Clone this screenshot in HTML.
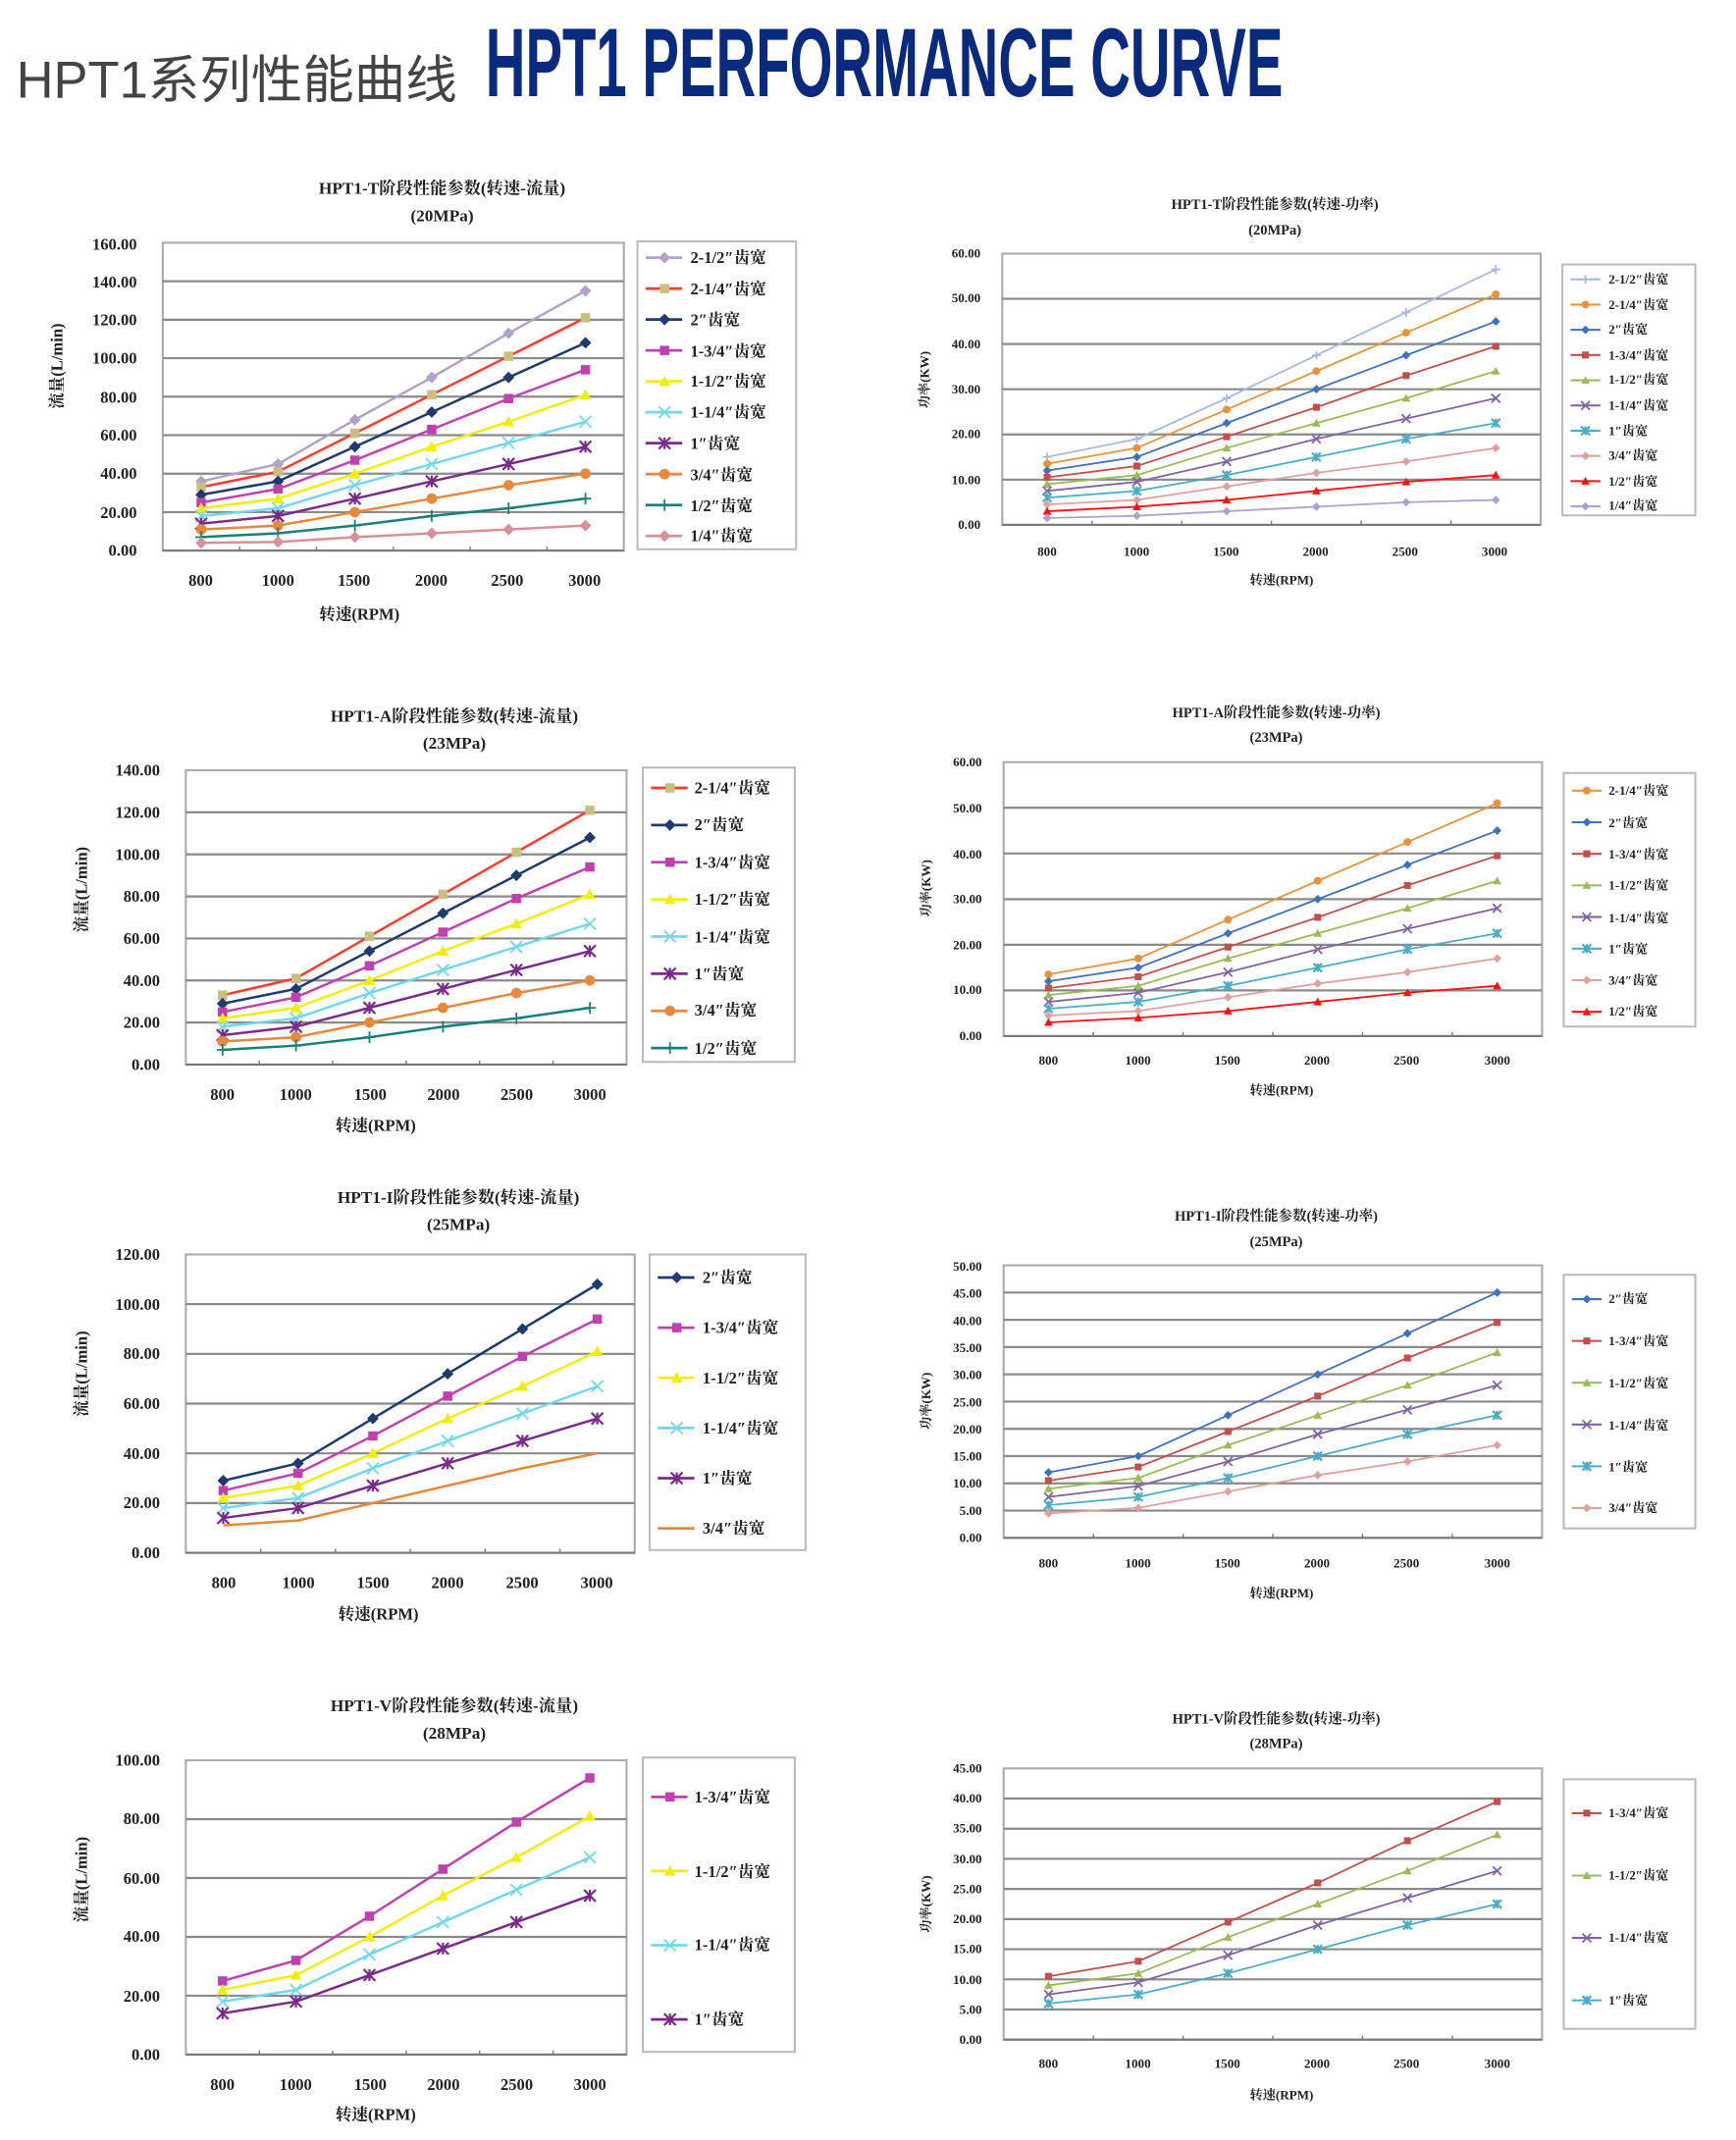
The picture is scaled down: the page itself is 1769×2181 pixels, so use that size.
<!DOCTYPE html>
<html><head><meta charset="utf-8"><style>
html,body{margin:0;padding:0;background:#fff;}
svg{display:block}
.t{font-family:"Liberation Serif","Noto Serif CJK SC",serif;font-weight:bold;fill:#222}
.f{font-size:12px}.p{font-size:9.5px}
.ti{font-size:12.5px}.tp{font-size:10.5px}
.r{text-anchor:end}.c{text-anchor:middle}
</style></head><body>
<svg id="s" width="1769" height="2181" viewBox="0 0 1280 1578" preserveAspectRatio="none" xmlns="http://www.w3.org/2000/svg">
<rect width="1280" height="1578" fill="#fff"/>
<text x="12" y="72" style="font-family:'Liberation Sans','Noto Sans CJK SC',sans-serif;font-size:38px;fill:#444">HPT1系列性能曲线</text>
<text x="358" y="71" textLength="588" lengthAdjust="spacingAndGlyphs" style="font-family:'Liberation Sans',sans-serif;font-weight:bold;font-size:72px;fill:#0a2a80">HPT1 PERFORMANCE CURVE</text>
<g id="plots"></g>
<g class="t">
<!-- C1 -->
<text class="c ti" x="326" y="143">HPT1-T阶段性能参数(转速-流量)</text>
<text class="c ti" x="326" y="163">(20MPa)</text>
<g class="f r"><text x="101" y="184">160.00</text><text x="101" y="212">140.00</text><text x="101" y="240">120.00</text><text x="101" y="268">100.00</text><text x="101" y="297">80.00</text><text x="101" y="325">60.00</text><text x="101" y="353">40.00</text><text x="101" y="382">20.00</text><text x="101" y="410">0.00</text></g>
<g class="f c"><text x="148" y="432">800</text><text x="205" y="432">1000</text><text x="261" y="432">1500</text><text x="318" y="432">2000</text><text x="374" y="432">2500</text><text x="431" y="432">3000</text></g>
<text class="f c" x="265" y="457">转速(RPM)</text>
<text class="f c" transform="translate(46,270) rotate(-90)">流量(L/min)</text>
<g class="f"><text x="509" y="194">2-1/2″齿宽</text><text x="509" y="217">2-1/4″齿宽</text><text x="509" y="240">2″齿宽</text><text x="509" y="263">1-3/4″齿宽</text><text x="509" y="285">1-1/2″齿宽</text><text x="509" y="308">1-1/4″齿宽</text><text x="509" y="331">1″齿宽</text><text x="509" y="354">3/4″齿宽</text><text x="509" y="377">1/2″齿宽</text><text x="509" y="399">1/4″齿宽</text></g>
<!-- C2 -->
<text class="c tp" x="940" y="154">HPT1-T阶段性能参数(转速-功率)</text>
<text class="c tp" x="940" y="173">(20MPa)</text>
<g class="p r"><text x="723" y="190">60.00</text><text x="723" y="223">50.00</text><text x="723" y="257">40.00</text><text x="723" y="290">30.00</text><text x="723" y="323">20.00</text><text x="723" y="357">10.00</text><text x="723" y="390">0.00</text></g>
<g class="p c"><text x="772" y="410">800</text><text x="838" y="410">1000</text><text x="904" y="410">1500</text><text x="970" y="410">2000</text><text x="1036" y="410">2500</text><text x="1102" y="410">3000</text></g>
<text class="p c" x="945" y="431">转速(RPM)</text>
<text class="p c" transform="translate(685,280) rotate(-90)">功率(KW)</text>
<g class="p"><text x="1186" y="209">2-1/2″齿宽</text><text x="1186" y="228">2-1/4″齿宽</text><text x="1186" y="246">2″齿宽</text><text x="1186" y="265">1-3/4″齿宽</text><text x="1186" y="283">1-1/2″齿宽</text><text x="1186" y="302">1-1/4″齿宽</text><text x="1186" y="321">1″齿宽</text><text x="1186" y="339">3/4″齿宽</text><text x="1186" y="358">1/2″齿宽</text><text x="1186" y="376">1/4″齿宽</text></g>
<!-- C3 -->
<text class="c ti" x="335" y="532">HPT1-A阶段性能参数(转速-流量)</text>
<text class="c ti" x="335" y="552">(23MPa)</text>
<g class="f r"><text x="118" y="572">140.00</text><text x="118" y="603">120.00</text><text x="118" y="634">100.00</text><text x="118" y="665">80.00</text><text x="118" y="696">60.00</text><text x="118" y="727">40.00</text><text x="118" y="758">20.00</text><text x="118" y="789">0.00</text></g>
<g class="f c"><text x="164" y="811">800</text><text x="218" y="811">1000</text><text x="273" y="811">1500</text><text x="327" y="811">2000</text><text x="381" y="811">2500</text><text x="435" y="811">3000</text></g>
<text class="f c" x="277" y="834">转速(RPM)</text>
<text class="f c" transform="translate(64,656) rotate(-90)">流量(L/min)</text>
<g class="f"><text x="512" y="585">2-1/4″齿宽</text><text x="512" y="612">2″齿宽</text><text x="512" y="640">1-3/4″齿宽</text><text x="512" y="667">1-1/2″齿宽</text><text x="512" y="695">1-1/4″齿宽</text><text x="512" y="722">1″齿宽</text><text x="512" y="749">3/4″齿宽</text><text x="512" y="777">1/2″齿宽</text></g>
<!-- C4 -->
<text class="c tp" x="941" y="529">HPT1-A阶段性能参数(转速-功率)</text>
<text class="c tp" x="941" y="547">(23MPa)</text>
<g class="p r"><text x="724" y="565">60.00</text><text x="724" y="599">50.00</text><text x="724" y="633">40.00</text><text x="724" y="666">30.00</text><text x="724" y="700">20.00</text><text x="724" y="733">10.00</text><text x="724" y="767">0.00</text></g>
<g class="p c"><text x="773" y="785">800</text><text x="839" y="785">1000</text><text x="905" y="785">1500</text><text x="971" y="785">2000</text><text x="1037" y="785">2500</text><text x="1104" y="785">3000</text></g>
<text class="p c" x="945" y="807">转速(RPM)</text>
<text class="p c" transform="translate(686,655) rotate(-90)">功率(KW)</text>
<g class="p"><text x="1186" y="586">2-1/4″齿宽</text><text x="1186" y="610">2″齿宽</text><text x="1186" y="633">1-3/4″齿宽</text><text x="1186" y="656">1-1/2″齿宽</text><text x="1186" y="680">1-1/4″齿宽</text><text x="1186" y="703">1″齿宽</text><text x="1186" y="726">3/4″齿宽</text><text x="1186" y="749">1/2″齿宽</text></g>
<!-- C5 -->
<text class="c ti" x="338" y="887">HPT1-I阶段性能参数(转速-流量)</text>
<text class="c ti" x="338" y="907">(25MPa)</text>
<g class="f r"><text x="118" y="929">120.00</text><text x="118" y="966">100.00</text><text x="118" y="1002">80.00</text><text x="118" y="1039">60.00</text><text x="118" y="1076">40.00</text><text x="118" y="1112">20.00</text><text x="118" y="1149">0.00</text></g>
<g class="f c"><text x="165" y="1171">800</text><text x="220" y="1171">1000</text><text x="275" y="1171">1500</text><text x="330" y="1171">2000</text><text x="385" y="1171">2500</text><text x="440" y="1171">3000</text></g>
<text class="f c" x="279" y="1194">转速(RPM)</text>
<text class="f c" transform="translate(64,1013) rotate(-90)">流量(L/min)</text>
<g class="f"><text x="518" y="946">2″齿宽</text><text x="518" y="983">1-3/4″齿宽</text><text x="518" y="1020">1-1/2″齿宽</text><text x="518" y="1057">1-1/4″齿宽</text><text x="518" y="1094">1″齿宽</text><text x="518" y="1131">3/4″齿宽</text></g>
<!-- C6 -->
<text class="c tp" x="941" y="900">HPT1-I阶段性能参数(转速-功率)</text>
<text class="c tp" x="941" y="919">(25MPa)</text>
<g class="p r"><text x="724" y="937">50.00</text><text x="724" y="957">45.00</text><text x="724" y="977">40.00</text><text x="724" y="997">35.00</text><text x="724" y="1017">30.00</text><text x="724" y="1037">25.00</text><text x="724" y="1057">20.00</text><text x="724" y="1077">15.00</text><text x="724" y="1097">10.00</text><text x="724" y="1117">5.00</text><text x="724" y="1137">0.00</text></g>
<g class="p c"><text x="773" y="1156">800</text><text x="839" y="1156">1000</text><text x="905" y="1156">1500</text><text x="971" y="1156">2000</text><text x="1037" y="1156">2500</text><text x="1104" y="1156">3000</text></g>
<text class="p c" x="945" y="1178">转速(RPM)</text>
<text class="p c" transform="translate(686,1033) rotate(-90)">功率(KW)</text>
<g class="p"><text x="1186" y="961">2″齿宽</text><text x="1186" y="992">1-3/4″齿宽</text><text x="1186" y="1023">1-1/2″齿宽</text><text x="1186" y="1054">1-1/4″齿宽</text><text x="1186" y="1085">1″齿宽</text><text x="1186" y="1115">3/4″齿宽</text></g>
<!-- C7 -->
<text class="c ti" x="335" y="1262">HPT1-V阶段性能参数(转速-流量)</text>
<text class="c ti" x="335" y="1282">(28MPa)</text>
<g class="f r"><text x="118" y="1302">100.00</text><text x="118" y="1345">80.00</text><text x="118" y="1389">60.00</text><text x="118" y="1432">40.00</text><text x="118" y="1476">20.00</text><text x="118" y="1519">0.00</text></g>
<g class="f c"><text x="164" y="1541">800</text><text x="218" y="1541">1000</text><text x="273" y="1541">1500</text><text x="327" y="1541">2000</text><text x="381" y="1541">2500</text><text x="435" y="1541">3000</text></g>
<text class="f c" x="277" y="1563">转速(RPM)</text>
<text class="f c" transform="translate(64,1386) rotate(-90)">流量(L/min)</text>
<g class="f"><text x="512" y="1329">1-3/4″齿宽</text><text x="512" y="1384">1-1/2″齿宽</text><text x="512" y="1438">1-1/4″齿宽</text><text x="512" y="1493">1″齿宽</text></g>
<!-- C8 -->
<text class="c tp" x="941" y="1271">HPT1-V阶段性能参数(转速-功率)</text>
<text class="c tp" x="941" y="1289">(28MPa)</text>
<g class="p r"><text x="724" y="1307">45.00</text><text x="724" y="1329">40.00</text><text x="724" y="1351">35.00</text><text x="724" y="1374">30.00</text><text x="724" y="1396">25.00</text><text x="724" y="1418">20.00</text><text x="724" y="1440">15.00</text><text x="724" y="1463">10.00</text><text x="724" y="1485">5.00</text><text x="724" y="1507">0.00</text></g>
<g class="p c"><text x="773" y="1525">800</text><text x="839" y="1525">1000</text><text x="905" y="1525">1500</text><text x="971" y="1525">2000</text><text x="1037" y="1525">2500</text><text x="1104" y="1525">3000</text></g>
<text class="p c" x="945" y="1548">转速(RPM)</text>
<text class="p c" transform="translate(686,1404) rotate(-90)">功率(KW)</text>
<g class="p"><text x="1186" y="1340">1-3/4″齿宽</text><text x="1186" y="1386">1-1/2″齿宽</text><text x="1186" y="1432">1-1/4″齿宽</text><text x="1186" y="1478">1″齿宽</text></g>
</g>
</svg>
<script>
var NS="http://www.w3.org/2000/svg",G=document.getElementById("plots");
function el(n,a){var e=document.createElementNS(NS,n);for(var k in a)e.setAttribute(k,a[k]);G.appendChild(e);return e;}
var FLOW={"2-1/2":[36,45,68,90,113,135],"2-1/4":[33,41,61,81,101,121],"2":[29,36,54,72,90,108],"1-3/4":[25,32,47,63,79,94],"1-1/2":[22,27,40,54,67,81],"1-1/4":[18,22,34,45,56,67],"1":[14,18,27,36,45,54],"3/4":[11,13,20,27,34,40],"1/2":[7,9,13,18,22,27],"1/4":[4,4.5,7,9,11,13]};
var POW={"2-1/2":[15,19,28,37.5,47,56.5],"2-1/4":[13.5,17,25.5,34,42.5,51],"2":[12,15,22.5,30,37.5,45],"1-3/4":[10.5,13,19.5,26,33,39.5],"1-1/2":[9,11,17,22.5,28,34],"1-1/4":[7.5,9.5,14,19,23.5,28],"1":[6,7.5,11,15,19,22.5],"3/4":[4.5,5.5,8.5,11.5,14,17],"1/2":[3,4,5.5,7.5,9.5,11],"1/4":[1.5,2,3,4,5,5.5]};
var FS={"2-1/2":["#b3a2c7","#b3a2c7","d"],"2-1/4":["#ff3a2a","#c8c080","s"],"2":["#1f3a6e","#1f3a6e","d"],"1-3/4":["#c040b0","#c040b0","s"],"1-1/2":["#f0ee10","#f0ee10","t"],"1-1/4":["#70d8ea","#70d8ea","x"],"1":["#7a2a8a","#7a2a8a","a"],"3/4":["#e8883a","#e8883a","o"],"1/2":["#18807a","#18807a","p"],"1/4":["#d89098","#d89098","d"]};
var PS={"2-1/2":["#a8b8e0","#a8b8e0","p"],"2-1/4":["#e8923a","#e8923a","o"],"2":["#4070c0","#4070c0","d"],"1-3/4":["#c0504d","#c0504d","s"],"1-1/2":["#9bbb59","#9bbb59","t"],"1-1/4":["#8064a2","#8064a2","x"],"1":["#4bacc6","#4bacc6","a"],"3/4":["#e0a0a0","#e0a0a0","d"],"1/2":["#ff1010","#ff1010","t"],"1/4":["#b0a0d0","#b0a0d0","d"]};
function mk(x,y,t,c,s){
 if(t=="d")el("path",{d:"M"+x+","+(y-s)+"L"+(x+s)+","+y+"L"+x+","+(y+s)+"L"+(x-s)+","+y+"Z",fill:c});
 else if(t=="s")el("rect",{x:x-s*.8,y:y-s*.8,width:s*1.6,height:s*1.6,fill:c});
 else if(t=="t")el("path",{d:"M"+x+","+(y-s)+"L"+(x+s)+","+(y+s*.8)+"L"+(x-s)+","+(y+s*.8)+"Z",fill:c});
 else if(t=="o")el("circle",{cx:x,cy:y,r:s*.9,fill:c});
 else if(t=="x")el("path",{d:"M"+(x-s)+","+(y-s)+"L"+(x+s)+","+(y+s)+"M"+(x+s)+","+(y-s)+"L"+(x-s)+","+(y+s),stroke:c,"stroke-width":1.3});
 else if(t=="a")el("path",{d:"M"+(x-s)+","+(y-s)+"L"+(x+s)+","+(y+s)+"M"+(x+s)+","+(y-s)+"L"+(x-s)+","+(y+s)+"M"+x+","+(y-s)+"L"+x+","+(y+s),stroke:c,"stroke-width":1.6});
 else if(t=="p")el("path",{d:"M"+(x-s)+","+y+"L"+(x+s)+","+y+"M"+x+","+(y-s)+"L"+x+","+(y+s),stroke:c,"stroke-width":1.3});
}
function chart(o){
 var w=o.x1-o.x0,h=o.yb-o.yt;
 el("rect",{x:o.x0,y:o.yt,width:w,height:h,fill:"#fff",stroke:"#aaa","stroke-width":1.5});
 for(var v=o.step;v<o.max-0.01;v+=o.step){var y=o.yb-v/o.max*h;el("line",{x1:o.x0,x2:o.x1,y1:y,y2:y,stroke:"#8a8a8a","stroke-width":1.6});}
 el("line",{x1:o.x0,x2:o.x1,y1:o.yb,y2:o.yb,stroke:"#777","stroke-width":1.5});
 for(var i=1;i<6;i++){var tx=o.x0+i*w/6;el("line",{x1:tx,x2:tx,y1:o.yb,y2:o.yb-3,stroke:"#777"});}
 el("rect",{x:o.lx0,y:o.ly0,width:o.lx1-o.lx0,height:o.ly1-o.ly0,fill:"#fff",stroke:"#bbb","stroke-width":1.5});
 var S=o.pw?PS:FS,D=o.pw?POW:FLOW,ms=o.pw?3.2:4.3;
 o.ser.forEach(function(k,j){
  var st=S[k],d=D[k],pts=[];
  var mt=(o.nom&&k=="3/4")?"n":st[2];
  for(var i=0;i<6;i++)pts.push([o.x0+(i+.5)*w/6,o.yb-d[i]/o.max*h]);
  el("polyline",{points:pts.map(function(p){return p.join(",")}).join(" "),fill:"none",stroke:st[0],"stroke-width":o.pw?1.3:1.8});
  if(mt!="n")pts.forEach(function(p){mk(p[0],p[1],mt,st[1],ms);});
  var ly=o.lyS+j*o.lyD;
  el("line",{x1:o.lx0+6,x2:o.lx0+(o.pw?28:33),y1:ly,y2:ly,stroke:st[0],"stroke-width":o.pw?1.5:2});
  if(mt!="n")mk(o.lx0+(o.pw?17:20),ly,mt,st[1],ms);
 });
}
var all=["2-1/2","2-1/4","2","1-3/4","1-1/2","1-1/4","1","3/4","1/2","1/4"];
chart({x0:120,x1:460,yt:179,yb:406,max:160,step:20,lx0:470,lx1:587,ly0:178,ly1:405,lyS:190,lyD:22.8,ser:all});
chart({x0:739,x1:1136,yt:187,yb:387,max:60,step:10,lx0:1152,lx1:1250,ly0:195,ly1:380,lyS:206,lyD:18.6,ser:all,pw:1});
chart({x0:137,x1:462,yt:568,yb:785,max:140,step:20,lx0:474,lx1:586,ly0:566,ly1:783,lyS:581,lyD:27.4,ser:all.slice(1,9)});
chart({x0:740,x1:1137,yt:562,yb:764,max:60,step:10,lx0:1153,lx1:1250,ly0:570,ly1:757,lyS:583,lyD:23.3,ser:all.slice(1,9),pw:1});
chart({x0:137,x1:468,yt:925,yb:1145,max:120,step:20,lx0:479,lx1:594,ly0:925,ly1:1143,lyS:942,lyD:37,ser:all.slice(2,8),nom:1});
chart({x0:740,x1:1137,yt:933,yb:1134,max:50,step:5,lx0:1153,lx1:1250,ly0:940,ly1:1127,lyS:958,lyD:30.8,ser:all.slice(2,8),pw:1});
chart({x0:137,x1:462,yt:1298,yb:1515,max:100,step:20,lx0:474,lx1:586,ly0:1296,ly1:1513,lyS:1325,lyD:54.7,ser:all.slice(3,7)});
chart({x0:740,x1:1137,yt:1304,yb:1504,max:45,step:5,lx0:1153,lx1:1250,ly0:1312,ly1:1496,lyS:1337,lyD:46,ser:all.slice(3,7),pw:1});
</script>
</body></html>
